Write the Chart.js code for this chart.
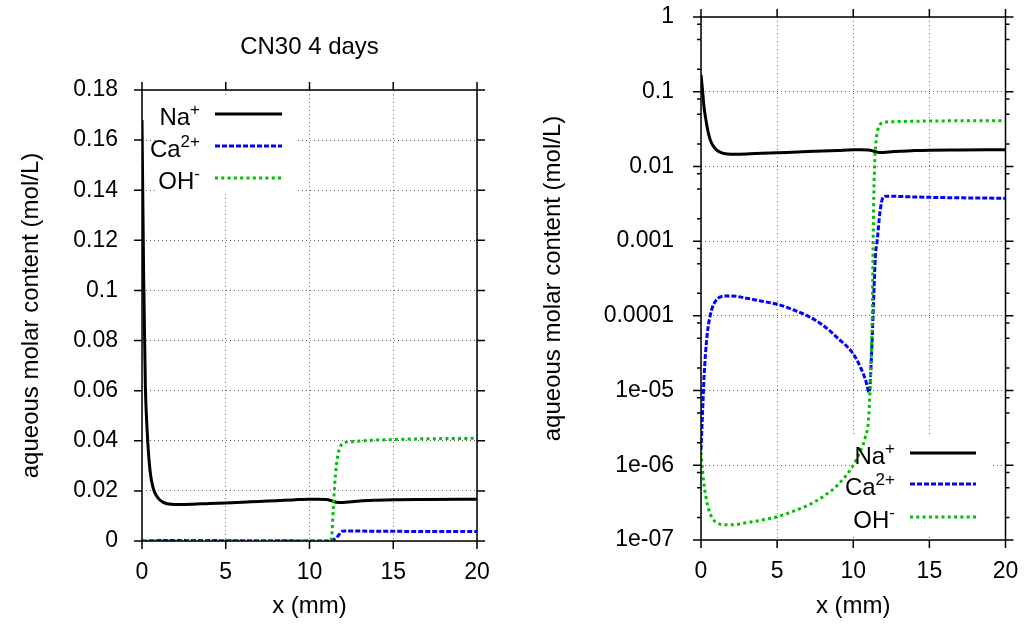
<!DOCTYPE html>
<html>
<head>
<meta charset="utf-8">
<script src="https://cdn.jsdelivr.net/npm/chart.js@4.4.0/dist/chart.umd.min.js"></script>
<style>
  html, body { margin: 0; padding: 0; background: #fff; }
  .panel { position: absolute; top: 0; width: 513px; height: 624px; }
  #left { left: 0; }
  #right { left: 513px; }
</style>
</head>
<body>
<div class="panel" id="left"><canvas id="linChart" width="513" height="624"></canvas></div>
<div class="panel" id="right"><canvas id="logChart" width="513" height="624"></canvas></div>
<script>
// Na+ profile
const xNa = [0, 0.1, 0.2, 0.3, 0.4, 0.5, 0.6, 0.75, 1, 1.25, 1.5, 2, 3, 4, 5, 6, 7, 8, 9, 10, 10.5, 11, 11.3, 11.6, 12, 12.5, 13, 14, 15, 17, 20];
const naValues = [0.168, 0.105, 0.062, 0.045, 0.034, 0.027, 0.023, 0.0195, 0.0168, 0.0155, 0.0149, 0.0146, 0.0147, 0.0150, 0.0152, 0.0155, 0.0158, 0.0161, 0.0164, 0.0167, 0.0167, 0.0166, 0.0161, 0.0155, 0.0154, 0.0157, 0.0160, 0.0163, 0.0165, 0.0166, 0.0167];

// Ca2+ profile
const xCa = [0, 0.1, 0.2, 0.3, 0.4, 0.5, 0.6, 0.75, 1, 1.25, 1.5, 2, 3, 4, 5, 6, 7, 8, 9, 10, 10.5, 10.8, 11.05, 11.2, 11.3, 11.45, 11.58, 11.75, 11.97, 12.2, 14, 17, 20];
const caValues = [1.6e-6, 5e-6, 1.5e-5, 3.2e-5, 5.5e-5, 7.8e-5, 1.0e-4, 1.3e-4, 1.62e-4, 1.78e-4, 1.84e-4, 1.85e-4, 1.72e-4, 1.57e-4, 1.43e-4, 1.22e-4, 1.0e-4, 7.5e-5, 5e-5, 3.1e-5, 2e-5, 1.4e-5, 9.5e-6, 3e-5, 1e-4, 6e-4, 1.05e-3, 2.4e-3, 3.9e-3, 4.0e-3, 3.9e-3, 3.8e-3, 3.75e-3];

// OH- profile
const xOH = [0, 0.1, 0.2, 0.3, 0.5, 0.75, 1, 1.5, 2, 3, 4, 5, 6, 7, 8, 9, 10, 10.5, 10.8, 11, 11.1, 11.2, 11.25, 11.3, 11.35, 11.42, 11.5, 11.6, 11.75, 12, 12.3, 15, 20];
const ohValues = [1.5e-6, 8.5e-7, 5.5e-7, 4e-7, 2.6e-7, 1.95e-7, 1.72e-7, 1.6e-7, 1.6e-7, 1.7e-7, 1.85e-7, 2.05e-7, 2.4e-7, 2.9e-7, 3.8e-7, 5.5e-7, 1.0e-6, 1.6e-6, 2.4e-6, 4e-6, 1e-5, 4e-5, 1e-4, 8e-4, 4e-3, 0.013, 0.022, 0.030, 0.036, 0.039, 0.0395, 0.0405, 0.041];

const seriesNames = ['Na', 'Ca', 'OH'];
const seriesCharges = ['+', '2+', '-'];

const xTicks = [0, 5, 10, 15, 20];
const linTicks = [0, 0.02, 0.04, 0.06, 0.08, 0.1, 0.12, 0.14, 0.16, 0.18];
const linTickLabels = ['0', '0.02', '0.04', '0.06', '0.08', '0.1', '0.12', '0.14', '0.16', '0.18'];
const logTicks = [1e-7, 1e-6, 1e-5, 1e-4, 1e-3, 1e-2, 1e-1, 1];
const logTickLabels = ['1e-07', '1e-06', '1e-05', '0.0001', '0.001', '0.01', '0.1', '1'];
const logMinor = [2, 5, 8];

const FONT = "'Liberation Sans', Arial, sans-serif";
Chart.defaults.font.family = FONT;
Chart.defaults.color = '#000';

const styles = [
    { color: '#000000', dash: [], width: 3 },
    { color: '#0000ff', dash: [5, 2], width: 3 },
    { color: '#00c000', dash: [3, 3.3], width: 3 }
];

function buildDatasets() {
    const xs = [xNa, xCa, xOH];
    const ys = [naValues, caValues, ohValues];
    return xs.map((xArr, k) => ({
        label: seriesNames[k],
        data: xArr.map((x, i) => ({ x: x, y: ys[k][i] })),
        borderColor: styles[k].color,
        borderDash: styles[k].dash,
        borderWidth: styles[k].width,
        pointRadius: 0,
        cubicInterpolationMode: 'monotone',
        order: 2 - k
    }));
}

// frame, outward tics, title and gnuplot-style key
function gnuplotLook(opt) {
    return {
        id: 'gnuplotLook',
        beforeDatasetsDraw(chart) {
            const ctx = chart.ctx;
            const b = opt.keyBox;
            ctx.save();
            ctx.fillStyle = '#fff';
            ctx.fillRect(b[0], b[1], b[2] - b[0], b[3] - b[1]);
            ctx.restore();
        },
        afterDatasetsDraw(chart) {
            const { ctx, chartArea: a, scales } = chart;
            const x = scales.x, y = scales.y;
            ctx.save();
            ctx.strokeStyle = '#000';
            ctx.lineWidth = 1.5;
            ctx.strokeRect(a.left, a.top, a.right - a.left, a.bottom - a.top);

            ctx.beginPath();
            x.ticks.forEach(t => {
                const p = x.getPixelForValue(t.value);
                ctx.moveTo(p, a.bottom); ctx.lineTo(p, a.bottom + 8);
                ctx.moveTo(p, a.top); ctx.lineTo(p, a.top - 8);
            });
            y.ticks.forEach(t => {
                const p = y.getPixelForValue(t.value);
                ctx.moveTo(a.left, p); ctx.lineTo(a.left - 8, p);
                ctx.moveTo(a.right, p); ctx.lineTo(a.right + 8, p);
            });
            if (opt.log) {
                logTicks.slice(0, -1).forEach(d => {
                    logMinor.forEach(m => {
                        const p = y.getPixelForValue(d * m);
                        ctx.moveTo(a.left, p); ctx.lineTo(a.left - 4, p);
                        ctx.moveTo(a.right, p); ctx.lineTo(a.right + 4, p);
                    });
                });
            }
            ctx.stroke();

            ctx.fillStyle = '#000';
            if (opt.title) {
                ctx.font = '24px ' + FONT;
                ctx.textAlign = 'center';
                ctx.textBaseline = 'middle';
                ctx.fillText(opt.title, (a.left + a.right) / 2, 47);
            }

            // key
            ctx.textAlign = 'left';
            ctx.textBaseline = 'alphabetic';
            seriesNames.forEach((name, k) => {
                const base = opt.keyBase[k];
                ctx.font = '24px ' + FONT;
                const w1 = ctx.measureText(name).width;
                ctx.font = '17px ' + FONT;
                const w2 = ctx.measureText(seriesCharges[k]).width;
                const start = opt.keyRight - w1 - w2;
                ctx.font = '24px ' + FONT;
                ctx.fillText(name, start, base);
                ctx.font = '17px ' + FONT;
                ctx.fillText(seriesCharges[k], start + w1, base - 10);

                ctx.beginPath();
                ctx.strokeStyle = styles[k].color;
                ctx.lineWidth = styles[k].width;
                ctx.setLineDash(styles[k].dash);
                ctx.moveTo(opt.lineX[0], base - 11);
                ctx.lineTo(opt.lineX[1], base - 11);
                ctx.stroke();
                ctx.setLineDash([]);
            });
            ctx.restore();
        }
    };
}

function axisCommon() {
    return {
        grid: { color: '#666', lineWidth: 1, drawTicks: false },
        border: { display: false, dash: [1, 3] }
    };
}

function xScale(height) {
    return Object.assign(axisCommon(), {
        type: 'linear', min: 0, max: 20,
        afterBuildTicks: s => { s.ticks = xTicks.map(v => ({ value: v })); },
        afterFit: s => { s.height = height; s.paddingLeft = 0; s.paddingRight = 0; },
        ticks: { padding: 18, maxRotation: 0, font: { size: 23 }, callback: v => String(v) },
        title: { display: true, text: 'x (mm)', font: { size: 24 }, padding: { top: 0, bottom: 3 } }
    });
}

function yFit(width) {
    return s => { s.width = width; s.paddingTop = 0; s.paddingBottom = 0; };
}

// left: linear
new Chart(document.getElementById('linChart'), {
    type: 'line',
    data: { datasets: buildDatasets() },
    options: {
        responsive: false,
        animation: false,
        layout: { padding: { left: 0, right: 36, top: 90, bottom: 0 } },
        plugins: {
            legend: { display: false },
            tooltip: { enabled: false }
        },
        scales: {
            x: xScale(83),
            y: Object.assign(axisCommon(), {
                type: 'linear', min: 0, max: 0.18,
                afterBuildTicks: s => { s.ticks = linTicks.map(v => ({ value: v })); },
                afterFit: yFit(142),
                ticks: { padding: 24, font: { size: 23 }, callback: (v, i) => linTickLabels[i] },
                title: { display: true, text: 'aqueous molar content (mol/L)', font: { size: 24 }, padding: { top: 17, bottom: 0 } }
            })
        }
    },
    plugins: [gnuplotLook({ log: false, title: 'CN30 4 days', keyBox: [155, 97, 297, 194], keyRight: 200, keyBase: [125, 157, 189], lineX: [215, 282] })]
});

// right: logarithmic
new Chart(document.getElementById('logChart'), {
    type: 'line',
    data: { datasets: buildDatasets() },
    options: {
        responsive: false,
        animation: false,
        layout: { padding: { left: 0, right: 20.5, top: 17, bottom: 0 } },
        plugins: {
            legend: { display: false },
            tooltip: { enabled: false }
        },
        scales: {
            x: xScale(84),
            y: Object.assign(axisCommon(), {
                type: 'logarithmic', min: 1e-7, max: 1,
                afterBuildTicks: s => { s.ticks = logTicks.map(v => ({ value: v })); },
                afterFit: yFit(188),
                ticks: { padding: 27, font: { size: 23 }, callback: (v, i) => logTickLabels[i] },
                title: { display: true, text: 'aqueous molar content (mol/L)', font: { size: 24 }, padding: { top: 25.6, bottom: 0 } }
            })
        }
    },
    plugins: [gnuplotLook({ log: true, keyBox: [337, 437, 479, 536], keyRight: 382, keyBase: [464, 495, 528], lineX: [397, 463] })]
});
</script>
</body>
</html>
